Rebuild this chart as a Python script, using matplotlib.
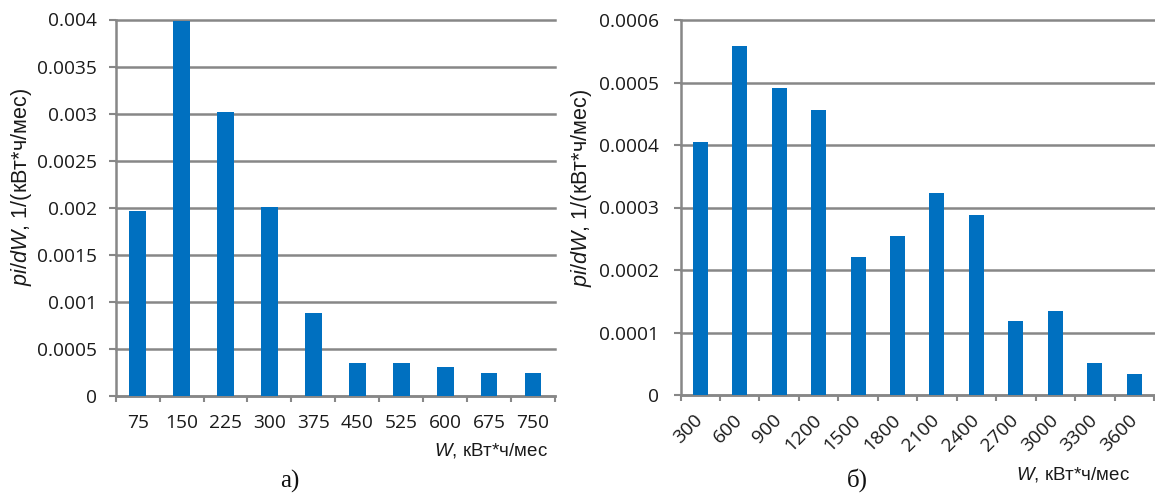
import matplotlib
matplotlib.use("Agg")
import matplotlib.pyplot as plt
import numpy as np

# ---- data ----
left_categories = ['75', '150', '225', '300', '375', '450', '525', '600', '675', '750']
left_values = [0.00196, 0.00398, 0.00302, 0.00201, 0.00088, 0.00035, 0.00035, 0.00030, 0.00024, 0.00024]
left_yticks = [0, 0.0005, 0.001, 0.0015, 0.002, 0.0025, 0.003, 0.0035, 0.004]
left_yticklabels = ['0', '0.0005', '0.001', '0.0015', '0.002', '0.0025', '0.003', '0.0035', '0.004']

right_categories = ['300', '600', '900', '1200', '1500', '1800', '2100', '2400', '2700', '3000', '3300', '3600']
right_values = [0.000405, 0.000558, 0.000491, 0.000456, 0.000221, 0.000254, 0.000323, 0.000288,
                0.000119, 0.000135, 0.000052, 0.000033]
right_yticks = [0, 0.0001, 0.0002, 0.0003, 0.0004, 0.0005, 0.0006]
right_yticklabels = ['0', '0.0001', '0.0002', '0.0003', '0.0004', '0.0005', '0.0006']

ylabel_text = r'$\mathit{pi/dW}$, 1/(кВт*ч/мес)'
xlabel_text = r'$\mathit{W}$, кВт*ч/мес'

plt.rcParams['mathtext.fontset'] = 'custom'
plt.rcParams['mathtext.it'] = 'Liberation Sans:italic'
plt.rcParams['mathtext.rm'] = 'Liberation Sans'

W, H = 1155, 493
BAR = '#0070c0'
GRID = '#878787'
TXT = '#1a1a1a'
TICKFONT = 'Open Sans'

fig = plt.figure(figsize=(W / 100, H / 100), dpi=100)


def px_axes(x0, x1, ytop, ybot):
    return fig.add_axes([x0 / W, 1 - ybot / H, (x1 - x0) / W, (ybot - ytop) / H])


def style(ax, cats, vals, yticks, ylabels, ymax, ypad, xpad, rot):
    n = len(cats)
    x = np.arange(n)
    ax.bar(x, vals, width=0.38, color=BAR, zorder=3)
    ax.set_xlim(-0.5, n - 0.5)
    ax.set_ylim(0, ymax)
    ax.set_yticks(yticks)
    ax.set_yticklabels(ylabels, fontfamily=TICKFONT, fontsize=13.8, color=TXT)
    ax.set_xticks(x)
    if rot:
        ax.set_xticklabels(cats, fontfamily=TICKFONT, fontsize=13.8, color=TXT,
                           rotation=45, ha='right', va='center', rotation_mode='anchor')
    else:
        ax.set_xticklabels(cats, fontfamily=TICKFONT, fontsize=13.8, color=TXT)
    ax.set_xticks(np.arange(n + 1) - 0.5, minor=True)
    ax.tick_params(axis='x', which='major', length=0, pad=xpad)
    ax.tick_params(axis='x', which='minor', length=4, width=1.5, color=GRID, direction='out')
    ax.tick_params(axis='y', length=5, width=1.5, color=GRID, direction='out', pad=ypad)
    ax.yaxis.grid(True, color=GRID, linewidth=1.8, zorder=0)
    ax.set_axisbelow(True)
    for s in ['top', 'right']:
        ax.spines[s].set_visible(False)
    for s in ['left', 'bottom']:
        ax.spines[s].set_color(GRID)
        ax.spines[s].set_linewidth(1.8)
    for g in ax.get_ygridlines():
        g.set_clip_on(False)


ax1 = px_axes(115.7, 555, 19.5, 395.7)
style(ax1, left_categories, left_values, left_yticks, left_yticklabels, 0.004, 8.4, 13.3, False)

ax2 = px_axes(680.5, 1154, 20, 395)
style(ax2, right_categories, right_values, right_yticks, right_yticklabels, 0.0006, 10.6, 16, True)

# axis titles
fig.text(22 / W, 1 - 187 / H, ylabel_text, rotation=90, ha='center', va='center',
         fontsize=15.6, family='Liberation Sans', color=TXT)
fig.text(582 / W, 1 - 188 / H, ylabel_text, rotation=90, ha='center', va='center',
         fontsize=15.6, family='Liberation Sans', color=TXT)
fig.text(548 / W, 1 - 450 / H, xlabel_text, ha='right', va='center',
         fontsize=13.5, family='Liberation Sans', color=TXT)
fig.text(1130 / W, 1 - 474 / H, xlabel_text, ha='right', va='center',
         fontsize=13.5, family='Liberation Sans', color=TXT)
fig.text(290 / W, 1 - 481 / H, 'а)', ha='center', va='center',
         fontsize=18, family='Liberation Serif', color='#111111')
fig.text(857 / W, 1 - 480 / H, 'б)', ha='center', va='center',
         fontsize=18, family='Liberation Serif', color='#111111')

fig.savefig('out.png', dpi=100)
